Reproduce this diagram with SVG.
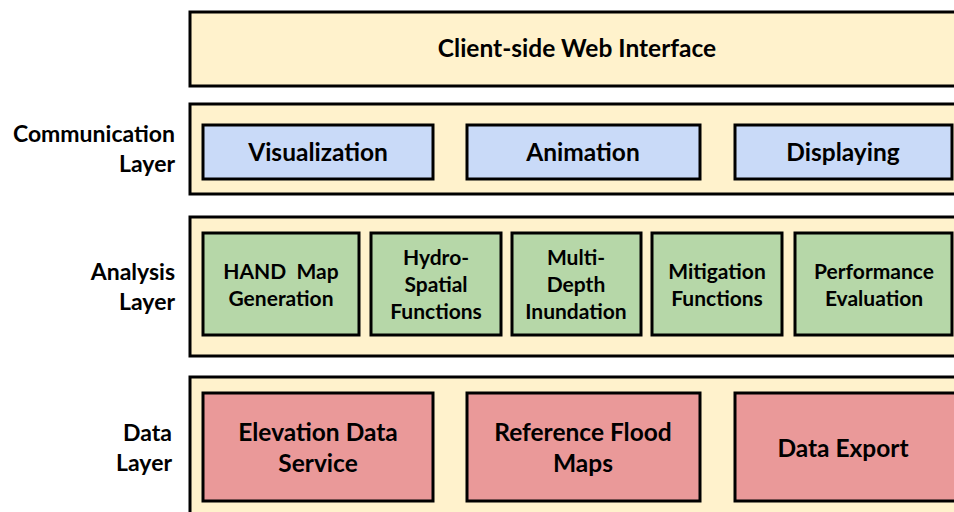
<svg xmlns="http://www.w3.org/2000/svg" width="954" height="512" viewBox="0 0 954 512">
<style>
.layer{fill:#FFF2CC;stroke:#000;stroke-width:3}
.blue{fill:#C9DAF8;stroke:#000;stroke-width:3}
.green{fill:#B6D7A8;stroke:#000;stroke-width:3}
.red{fill:#EA9999;stroke:#000;stroke-width:3}
text{font-family:Lato,"Open Sans",sans-serif;font-weight:bold;fill:#000;text-anchor:middle;white-space:pre}
.lbl{text-anchor:end;font-size:23px}
.big{font-size:24.5px}
.mid{font-size:21px}
</style>
<rect width="954" height="512" fill="#fff"/>
<g id="client">
<rect class="layer" x="190" y="12" width="780" height="74"/>
<text class="big" x="577" y="57">Client-side Web Interface</text>
</g>
<g id="communication-layer">
<rect class="layer" x="190" y="104" width="780" height="90"/>
<text class="lbl" x="175" y="142">Communication</text>
<text class="lbl" x="175" y="172">Layer</text>
</g>
<g id="visualization">
<rect class="blue" x="203" y="125" width="230" height="54"/>
<text class="big" x="318" y="161">Visualization</text>
</g>
<g id="animation">
<rect class="blue" x="467" y="125" width="233" height="54"/>
<text class="big" x="583" y="161">Animation</text>
</g>
<g id="displaying">
<rect class="blue" x="735" y="125" width="217" height="54"/>
<text class="big" x="843" y="161">Displaying</text>
</g>
<g id="analysis-layer">
<rect class="layer" x="190" y="217" width="780" height="139"/>
<text class="lbl" x="175" y="280">Analysis</text>
<text class="lbl" x="175" y="310">Layer</text>
</g>
<g id="hand">
<rect class="green" x="203" y="233" width="156" height="102"/>
<text class="mid" x="281" y="279" xml:space="preserve">HAND  Map</text>
<text class="mid" x="281" y="306">Generation</text>
</g>
<g id="hydro">
<rect class="green" x="371" y="233" width="130" height="102"/>
<text class="mid" x="436" y="265">Hydro-</text>
<text class="mid" x="436" y="292">Spatial</text>
<text class="mid" x="436" y="319">Functions</text>
</g>
<g id="multi">
<rect class="green" x="512" y="233" width="129" height="102"/>
<text class="mid" x="576" y="265">Multi-</text>
<text class="mid" x="576" y="292">Depth</text>
<text class="mid" x="576" y="319">Inundation</text>
</g>
<g id="mitigation">
<rect class="green" x="652" y="233" width="130" height="102"/>
<text class="mid" x="717" y="279">Mitigation</text>
<text class="mid" x="717" y="306">Functions</text>
</g>
<g id="performance">
<rect class="green" x="795" y="233" width="157" height="102"/>
<text class="mid" x="874" y="279">Performance</text>
<text class="mid" x="874" y="306">Evaluation</text>
</g>
<g id="data-layer">
<rect class="layer" x="190" y="377" width="780" height="160"/>
<text class="lbl" x="172" y="441">Data</text>
<text class="lbl" x="172" y="471">Layer</text>
</g>
<g id="elevation">
<rect class="red" x="203" y="393" width="230" height="108"/>
<text class="big" x="318" y="441">Elevation Data</text>
<text class="big" x="318" y="472">Service</text>
</g>
<g id="reference">
<rect class="red" x="467" y="393" width="233" height="108"/>
<text class="big" x="583" y="441">Reference Flood</text>
<text class="big" x="583" y="472">Maps</text>
</g>
<g id="export">
<rect class="red" x="735" y="393" width="230" height="108"/>
<text class="big" x="843" y="457">Data Export</text>
</g>
<g id="connectors"></g>
</svg>
